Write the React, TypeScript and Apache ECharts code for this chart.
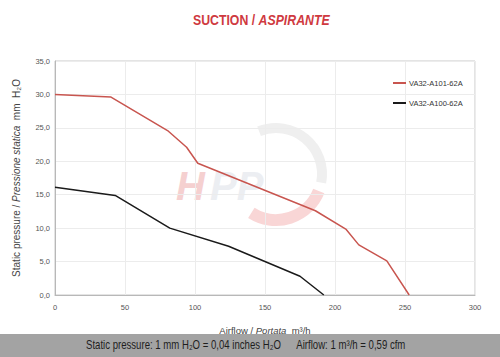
import React, { useEffect, useRef } from "react";
import * as echarts from "echarts";

const seriesNames = ["VA32-A101-62A", "VA32-A100-62A"];
const redFlow = [0, 40, 81, 94, 102, 186, 208, 217, 237, 253];
const redPressure = [30.0, 29.6, 24.5, 22.1, 19.7, 12.6, 9.8, 7.5, 5.1, 0];
const blackFlow = [0, 43, 82, 124, 175, 192];
const blackPressure = [16.1, 14.9, 10.0, 7.3, 2.8, 0];
const xTicks = [0, 50, 100, 150, 200, 250, 300];
const yTicks = [0, 5, 10, 15, 20, 25, 30, 35];

const pair = (xs: number[], ys: number[]) => xs.map((x, i) => [x, ys[i]]);

export default function App() {
  const ref = useRef<HTMLDivElement>(null);
  useEffect(() => {
    if (!ref.current) return;
    const chart = echarts.init(ref.current, null, { renderer: "svg" });
    const font = "Liberation Sans, Arial, sans-serif";
    chart.setOption({
      animation: false,
      backgroundColor: "#ffffff",
      textStyle: { fontFamily: font },
      legend: {
        orient: "vertical",
        left: 388,
        top: 74,
        itemWidth: 13,
        itemHeight: 2,
        itemGap: 12,
        icon: "rect",
        textStyle: { fontSize: 7.5, color: "#333", padding: [0, 0, 0, -2] },
        data: seriesNames,
      },
      grid: {
        left: 55,
        right: 25,
        top: 61,
        bottom: 62,
        show: true,
        borderColor: "#c8c8c8",
        borderWidth: 1,
      },
      xAxis: {
        type: "value",
        min: 0,
        max: 300,
        interval: 50,
        name: "{n|Airflow / }{i|Portata}{n|  m³/h}",
        nameLocation: "middle",
        nameGap: 30,
        nameTextStyle: {
          rich: {
            n: { fontSize: 9.5, color: "#444", fontFamily: font },
            i: { fontSize: 9.5, color: "#444", fontStyle: "italic", fontFamily: font },
          },
        },
        axisLine: { show: true, lineStyle: { color: "#b8b8b8" } },
        axisTick: { show: false },
        axisLabel: { fontSize: 7.5, color: "#555", margin: 8, formatter: (v: number) => (xTicks.includes(v) ? String(v) : "") },
        splitLine: { show: true, lineStyle: { color: "#ececec" } },
      },
      yAxis: {
        type: "value",
        min: 0,
        max: 35,
        interval: 5,
        name: "{n|Static pressure / }{i|Pressione statica}{n|  mm  H₂O}",
        nameLocation: "middle",
        nameGap: 34,
        nameTextStyle: {
          rich: {
            n: { fontSize: 10, color: "#444", fontFamily: font },
            i: { fontSize: 10, color: "#444", fontStyle: "italic", fontFamily: font },
          },
        },
        axisLine: { show: true, lineStyle: { color: "#b8b8b8" } },
        axisTick: { show: false },
        axisLabel: {
          fontSize: 7.5,
          color: "#555",
          margin: 5,
          formatter: (v: number) => (yTicks.includes(v) ? v.toFixed(1).replace(".", ",") : ""),
        },
        splitLine: { show: true, lineStyle: { color: "#ececec" } },
      },
      graphic: [
        {
          type: "text",
          x: 193,
          y: 20,
          scaleX: 0.82,
          style: {
            text: "{a|SUCTION / }{b|ASPIRANTE}",
            verticalAlign: "middle",
            rich: {
              a: { fontSize: 15, fontWeight: "bold", fill: "#cf3a3f", fontFamily: font },
              b: { fontSize: 15, fontWeight: "bold", fontStyle: "italic", fill: "#cf3a3f", fontFamily: font },
            },
          },
          z: 5,
        },
        {
          type: "arc",
          shape: { cx: 276, cy: 174, r: 46, startAngle: -Math.PI * 0.62, endAngle: Math.PI * 0.06 },
          style: { stroke: "#efefef", lineWidth: 10, fill: "none" },
          z: 0,
        },
        {
          type: "arc",
          shape: { cx: 276, cy: 174, r: 46, startAngle: Math.PI * 0.12, endAngle: Math.PI * 0.68 },
          style: { stroke: "#f9d6d6", lineWidth: 12, fill: "none" },
          z: 0,
        },
        {
          type: "text",
          x: 176,
          y: 166,
          style: {
            text: "H",
            font: "italic bold 40px Liberation Sans, Arial, sans-serif",
            fill: "#f5d0d0",
          },
          z: 0,
        },
        {
          type: "text",
          x: 210,
          y: 166,
          style: {
            text: "PP",
            font: "italic bold 40px Liberation Sans, Arial, sans-serif",
            fill: "#eceef2",
          },
          z: 0,
        },
        {
          type: "rect",
          shape: { x: 0, y: 334, width: 500, height: 23 },
          style: { fill: "#a3a3a3" },
          z: 0,
        },
        {
          type: "text",
          x: 86,
          y: 345,
          scaleX: 0.8,
          style: {
            text: "Static pressure: 1 mm H₂O = 0,04 inches H₂O      Airflow: 1 m³/h = 0,59 cfm",
            font: "12px Liberation Sans, Arial, sans-serif",
            fill: "#1e1e1e",
            verticalAlign: "middle",
          },
          z: 1,
        },
      ],
      series: [
        {
          name: seriesNames[0],
          type: "line",
          data: pair(redFlow, redPressure),
          showSymbol: false,
          symbol: "none",
          lineStyle: { color: "#c8554f", width: 1.5 },
          itemStyle: { color: "#c8554f" },
          z: 3,
        },
        {
          name: seriesNames[1],
          type: "line",
          data: pair(blackFlow, blackPressure),
          showSymbol: false,
          symbol: "none",
          lineStyle: { color: "#1a1a1a", width: 1.5 },
          itemStyle: { color: "#1a1a1a" },
          z: 3,
        },
      ],
    });
    return () => chart.dispose();
  }, []);
  return <div ref={ref} style={{ width: 500, height: 357, position: "absolute", left: 0, top: 0 }} />;
}
